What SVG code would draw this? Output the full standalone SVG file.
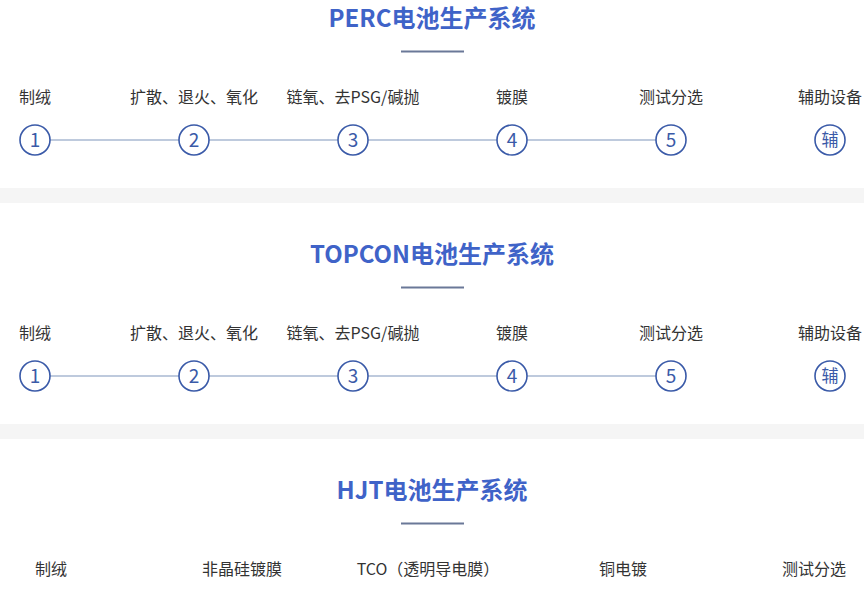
<svg xmlns="http://www.w3.org/2000/svg" width="864" height="592" viewBox="0 0 864 592">
<style>
.title{font-family:"Noto Sans CJK SC","Liberation Sans",sans-serif;font-size:24px;font-weight:bold;fill:#3f63c8;text-anchor:middle}
.lbl{font-family:"Noto Sans CJK SC","Liberation Sans",sans-serif;font-size:16px;fill:#333;text-anchor:middle}
.num{font-family:"Noto Sans CJK SC","Liberation Sans",sans-serif;font-size:19px;font-weight:normal;fill:#3a5aa8;text-anchor:middle}
.fu{font-family:"Noto Sans CJK SC",sans-serif;font-size:17px;fill:#3a5aa8;text-anchor:middle}
.ring{fill:#fff;stroke:#3a5aa8;stroke-width:1.6}
.ul{stroke:#6a7898;stroke-width:2}
.conn{stroke:#a9b9d2;stroke-width:1.5}
.band{fill:#f5f5f5}
</style>
<rect width="864" height="592" fill="#fff"/>
<rect class="band" x="0" y="188" width="864" height="15"/>
<rect class="band" x="0" y="424" width="864" height="15"/>

<g id="perc-title"><text class="title" x="432" y="27">PERC电池生产系统</text><line class="ul" x1="401" y1="51.5" x2="464" y2="51.5"/></g>
<g id="perc-connectors"><line class="conn" x1="35" y1="140" x2="671" y2="140"/></g>
<g id="perc-1"><text class="lbl" x="35" y="103">制绒</text><circle class="ring" cx="35" cy="140" r="15"/><text class="num" x="35" y="147">1</text></g>
<g id="perc-2"><text class="lbl" x="194" y="103">扩散、退火、氧化</text><circle class="ring" cx="194" cy="140" r="15"/><text class="num" x="194" y="147">2</text></g>
<g id="perc-3"><text class="lbl" x="353" y="103">链氧、去PSG/碱抛</text><circle class="ring" cx="353" cy="140" r="15"/><text class="num" x="353" y="147">3</text></g>
<g id="perc-4"><text class="lbl" x="512" y="103">镀膜</text><circle class="ring" cx="512" cy="140" r="15"/><text class="num" x="512" y="147">4</text></g>
<g id="perc-5"><text class="lbl" x="671" y="103">测试分选</text><circle class="ring" cx="671" cy="140" r="15"/><text class="num" x="671" y="147">5</text></g>
<g id="perc-aux"><text class="lbl" x="830" y="103">辅助设备</text><circle class="ring" cx="830" cy="140" r="15"/><text class="fu" x="830" y="146">辅</text></g>

<g id="topcon-title"><text class="title" x="432" y="263">TOPCON电池生产系统</text><line class="ul" x1="401" y1="287.5" x2="464" y2="287.5"/></g>
<g id="topcon-connectors"><line class="conn" x1="35" y1="376" x2="671" y2="376"/></g>
<g id="topcon-1"><text class="lbl" x="35" y="339">制绒</text><circle class="ring" cx="35" cy="376" r="15"/><text class="num" x="35" y="383">1</text></g>
<g id="topcon-2"><text class="lbl" x="194" y="339">扩散、退火、氧化</text><circle class="ring" cx="194" cy="376" r="15"/><text class="num" x="194" y="383">2</text></g>
<g id="topcon-3"><text class="lbl" x="353" y="339">链氧、去PSG/碱抛</text><circle class="ring" cx="353" cy="376" r="15"/><text class="num" x="353" y="383">3</text></g>
<g id="topcon-4"><text class="lbl" x="512" y="339">镀膜</text><circle class="ring" cx="512" cy="376" r="15"/><text class="num" x="512" y="383">4</text></g>
<g id="topcon-5"><text class="lbl" x="671" y="339">测试分选</text><circle class="ring" cx="671" cy="376" r="15"/><text class="num" x="671" y="383">5</text></g>
<g id="topcon-aux"><text class="lbl" x="830" y="339">辅助设备</text><circle class="ring" cx="830" cy="376" r="15"/><text class="fu" x="830" y="382">辅</text></g>

<g id="hjt-title"><text class="title" x="432" y="499">HJT电池生产系统</text><line class="ul" x1="401" y1="523.5" x2="464" y2="523.5"/></g>
<g id="hjt-1"><text class="lbl" x="51" y="575">制绒</text></g>
<g id="hjt-2"><text class="lbl" x="242" y="575">非晶硅镀膜</text></g>
<g id="hjt-3"><text class="lbl" x="428" y="575">TCO（透明导电膜）</text></g>
<g id="hjt-4"><text class="lbl" x="623" y="575">铜电镀</text></g>
<g id="hjt-5"><text class="lbl" x="814" y="575">测试分选</text></g>
</svg>
